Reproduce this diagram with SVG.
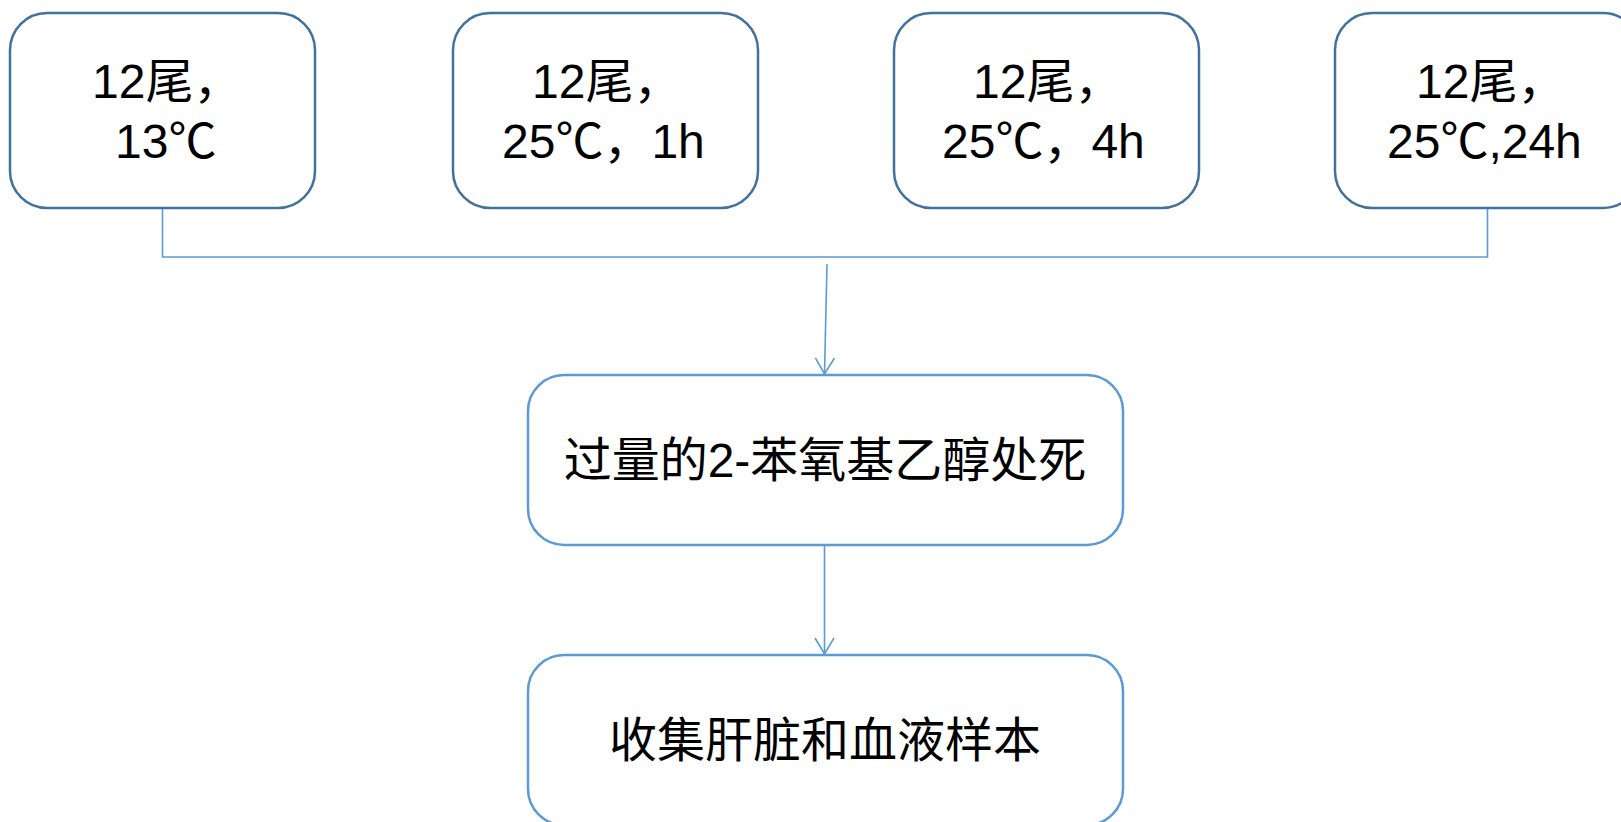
<svg xmlns="http://www.w3.org/2000/svg" width="1621" height="822" viewBox="0 0 1621 822">
<style>
.top{fill:#ffffff;stroke:#41719C;stroke-width:2.5}
.mid{fill:#ffffff;stroke:#5B9BD5;stroke-width:2.5}
.conn{fill:none;stroke:#5B9BD5;stroke-width:1.6}
text{font-family:"Liberation Sans","Noto Sans CJK SC",sans-serif;font-size:48px;fill:#000000}
</style>
<defs>
<marker id="arr" markerUnits="userSpaceOnUse" markerWidth="24" markerHeight="24" viewBox="-20 -12 24 24" refX="0" refY="0" orient="auto-start-reverse" overflow="visible">
<path d="M-16,-9.5 L0,0 L-16,9.5" fill="none" stroke="#5B9BD5" stroke-width="1.6"/>
</marker>
</defs>
<g id="connectors">
<polyline class="conn" points="162.5,209 162.5,257 1487.5,257 1487.5,209"/>
<line class="conn" x1="827" y1="264" x2="824.5" y2="374" marker-end="url(#arr)"/>
<line class="conn" x1="824.5" y1="545" x2="824.5" y2="654" marker-end="url(#arr)"/>
</g>
<g id="node1">
<rect class="top" x="10" y="13" width="305" height="195" rx="37"/>
<text x="92" y="98">12尾，</text>
<text x="115" y="158">13℃</text>
</g>
<g id="node2">
<rect class="top" x="453" y="13" width="305" height="195" rx="37"/>
<text x="532" y="98">12尾，</text>
<text x="502" y="158">25℃，1h</text>
</g>
<g id="node3">
<rect class="top" x="894" y="13" width="305" height="195" rx="37"/>
<text x="973" y="98">12尾，</text>
<text x="942" y="158">25℃，4h</text>
</g>
<g id="node4">
<rect class="top" x="1335" y="13" width="305" height="195" rx="37"/>
<text x="1416" y="98">12尾，</text>
<text x="1387" y="158">25℃,24h</text>
</g>
<g id="node5">
<rect class="mid" x="528" y="375" width="595" height="170" rx="36"/>
<text x="825" y="477" text-anchor="middle">过量的2-苯氧基乙醇处死</text>
</g>
<g id="node6">
<rect class="mid" x="528" y="655" width="595" height="170" rx="36"/>
<text x="825" y="757" text-anchor="middle">收集肝脏和血液样本</text>
</g>
</svg>
